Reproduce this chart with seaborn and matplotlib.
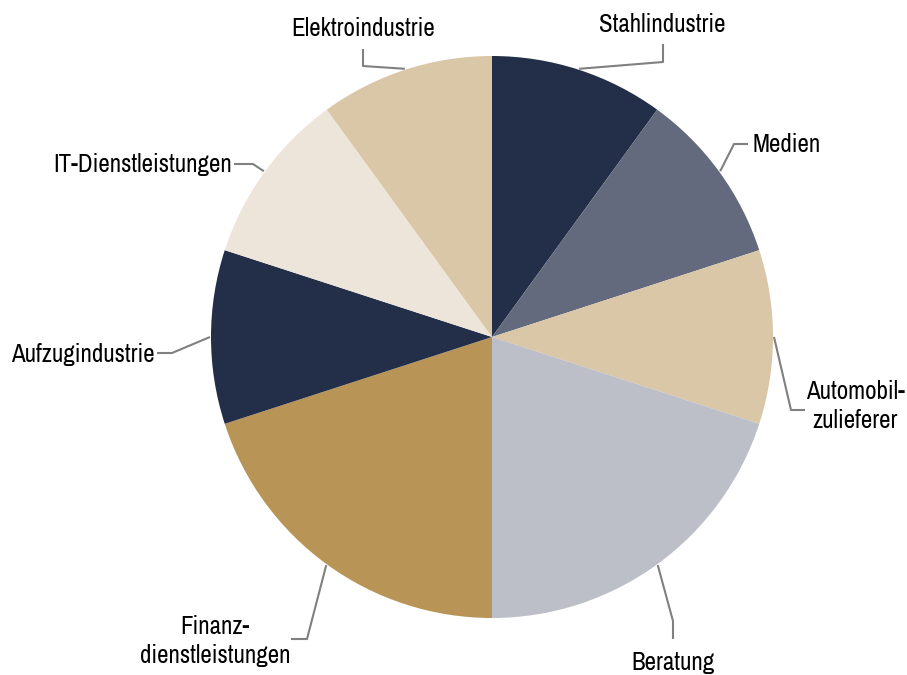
import numpy as np
import matplotlib
matplotlib.use("Agg")
import matplotlib.pyplot as plt
import seaborn as sns

sns.set_theme(style="white")
plt.rcParams['font.family'] = ["Archivo Narrow", "DejaVu Sans"]

categories = ["Stahlindustrie", "Medien", "Automobil-\nzulieferer", "Beratung",
              "Finanz-\ndienstleistungen", "Aufzugindustrie", "IT-Dienstleistungen",
              "Elektroindustrie"]
values = [10, 10, 10, 20, 20, 10, 10, 10]
colors = ["#232F48", "#636A7D", "#D9C7A7", "#BCBEC8", "#B89557", "#232F48",
          "#EDE5DA", "#D9C7A7"]

W, H = 907, 675
fig = plt.figure(figsize=(W / 100, H / 100), dpi=100)
ax = fig.add_axes([0, 0, 1, 1])

cx, cy, R = 492, H - 337, 281
ax.pie(values, colors=colors, startangle=90, counterclock=False,
       center=(cx, cy), radius=R, frame=True,
       wedgeprops=dict(linewidth=0))
ax.set_xlim(0, W)
ax.set_ylim(0, H)
ax.set_aspect("equal")
ax.axis("off")

# layout: elbow point, end point, text anchor, ha, va (pixel coords, y down)
layout = [
    ((663, 62), (663, 44), (662, 25), "center", "center"),
    ((734, 144), (748, 144), (752, 145), "left", "center"),
    ((791, 410), (805, 410), (855, 406), "center", "center"),
    ((673, 621), (673, 639), (673, 662), "center", "center"),
    ((307, 639), (291, 639), (215, 641), "center", "center"),
    ((172, 353), (157, 353), (155, 354), "right", "center"),
    ((253, 164), (234, 164), (232, 164), "right", "center"),
    ((363, 66), (363, 49), (363, 28), "center", "center"),
]

total = sum(values)
cum = 0
for name, v, (elb, end, txt, ha, va) in zip(categories, values, layout):
    mid = (cum + v / 2) / total * 360
    cum += v
    a = np.deg2rad(mid)
    sx = cx + (R + 1) * np.sin(a)
    sy = cy + (R + 1) * np.cos(a)
    ax.plot([sx, elb[0], end[0]], [sy, H - elb[1], H - end[1]],
            color="#808080", lw=1.5, solid_capstyle="butt")
    ax.text(txt[0], H - txt[1], name, ha=ha, va=va, fontsize=18,
            color="black", linespacing=1.3)

fig.savefig("out.png", dpi=100)
